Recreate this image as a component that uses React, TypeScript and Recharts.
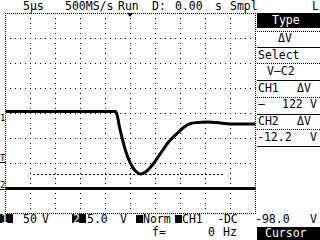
import React from 'react'
import { LineChart, Line, XAxis, YAxis, ReferenceLine } from 'recharts'

// 5 us/div, trigger at centre; CH1 50 V/div, CH2 5 V/div
const ch1Times = [-25, -3, -2, -1, 0, 1, 2, 3, 4.6, 6.4, 7.6, 9.3, 10.6, 12, 13.4, 15.4, 18, 20.6, 25]
const ch1Volts = [4, 4, -36, -74, -100, -115, -121, -117, -100, -74, -57, -40, -28, -20, -18, -17, -19, -21, -21]
const ch2Times = [-25, -12, 0, 12, 25]
const ch2Volts = [0, 0, 0, 0, 0]
const cursorTimes = [-19.4, 18.6]
const cursorVolts = -122
const gridTimes = [-20, -15, -10, -5, 0, 5, 10, 15, 20]
const gridVolts = [-150, -100, -50, 0, 50, 100, 150]
const timeDomain = [-25, 25]
const ch1Domain = [-200, 200]
const ch2Domain = [-5, 35]

const ch1Data = ch1Times.map((t, i) => ({ t, v: ch1Volts[i] }))
const ch2Data = ch2Times.map((t, i) => ({ t, v: ch2Volts[i] }))

const FONT = '"DejaVu Sans Mono", monospace'

function Txt({ x, y, children, inv = false, size = 11.5 }: { x: number; y: number; children: React.ReactNode; inv?: boolean; size?: number }) {
  return (
    <div style={{ position: 'absolute', left: x, top: y - 2, fontSize: size, lineHeight: '12px', color: inv ? '#fff' : '#000', whiteSpace: 'pre', fontFamily: FONT }}>
      {children}
    </div>
  )
}

function Box({ x, y, w, h }: { x: number; y: number; w: number; h: number }) {
  return <div style={{ position: 'absolute', left: x, top: y, width: w, height: h, background: '#000' }} />
}

function HLine({ y, dotted = false }: { y: number; dotted?: boolean }) {
  return <div style={{ position: 'absolute', left: 257, top: y, width: 63, height: 0, borderTop: dotted ? '1px dotted #000' : '1px solid #000' }} />
}

export default function App() {
  return (
    <div style={{ position: 'fixed', left: 0, top: 0, width: 320, height: 240, background: '#fff', overflow: 'hidden' }}>
      <LineChart width={320} height={240} data={ch1Data} margin={{ top: 13.5, right: 64.5, bottom: 26.5, left: 5.5 }}>
        <XAxis dataKey="t" type="number" domain={timeDomain} hide allowDataOverflow />
        <YAxis yAxisId="ch1" type="number" domain={ch1Domain} hide allowDataOverflow />
        <YAxis yAxisId="ch2" type="number" domain={ch2Domain} hide allowDataOverflow />
        {gridTimes.map((t) => (
          <ReferenceLine key={'gx' + t} x={t} yAxisId="ch1" stroke="#000" strokeDasharray="1 4" strokeDashoffset={0.5} />
        ))}
        {gridVolts.map((v) => (
          <ReferenceLine key={'gy' + v} y={v} yAxisId="ch1" stroke="#000" strokeDasharray="1 4" strokeDashoffset={0.5} />
        ))}
        <ReferenceLine
          yAxisId="ch1"
          segment={[{ x: cursorTimes[0], y: cursorVolts }, { x: cursorTimes[1], y: cursorVolts }]}
          stroke="#000"
          strokeDasharray="2 2"
          strokeDashoffset={0.5}
        />
        <Line yAxisId="ch2" data={ch2Data} dataKey="v" type="linear" stroke="#000" strokeWidth={3} dot={false} isAnimationActive={false} />
        <Line yAxisId="ch1" dataKey="v" type="monotone" stroke="#000" strokeWidth={3} dot={false} isAnimationActive={false} />
      </LineChart>

      {/* graticule frame */}
      <div style={{ position: 'absolute', left: 5, top: 13, width: 249, height: 199, border: '1px dotted #000', pointerEvents: 'none' }} />

      {/* header */}
      <Txt x={23} y={2}>5µs</Txt>
      <Txt x={65} y={2}>500MS/s</Txt>
      <Txt x={118} y={2}>Run</Txt>
      <Txt x={152} y={2}>D:</Txt>
      <Txt x={175} y={2}>0.00</Txt>
      <Txt x={215} y={2}>s</Txt>
      <Txt x={230} y={2}>Smpl</Txt>
      <Txt x={312} y={2}>L</Txt>
      <div style={{ position: 'absolute', left: 127, top: 13, width: 0, height: 0, borderLeft: '3px solid transparent', borderRight: '3px solid transparent', borderTop: '4px solid #000' }} />

      {/* left markers */}
      <Txt x={0} y={114} size={9}>1</Txt>
      <Txt x={0} y={154} size={9}><span style={{ textDecoration: 'underline' }}>T</span></Txt>
      <Txt x={0} y={181} size={9}><span style={{ textDecoration: 'underline' }}>2</span></Txt>

      {/* side menu */}
      <Box x={257} y={13} w={63} h={15} />
      <Txt x={272} y={16} inv>Type</Txt>
      <HLine y={31} dotted />
      <Txt x={278} y={34}>ΔV</Txt>
      <HLine y={47} />
      <Txt x={258} y={51}>Select</Txt>
      <HLine y={63} dotted />
      <Txt x={267} y={67}>V–C2</Txt>
      <HLine y={80} />
      <Txt x={258} y={84}>CH1</Txt>
      <Txt x={297} y={84}>ΔV</Txt>
      <HLine y={97} dotted />
      <Txt x={258} y={100}>–</Txt>
      <Txt x={282} y={100}>122</Txt>
      <Txt x={310} y={100}>V</Txt>
      <HLine y={114} />
      <Txt x={258} y={117}>CH2</Txt>
      <Txt x={297} y={117}>ΔV</Txt>
      <HLine y={129} dotted />
      <Txt x={257} y={133}>-12.2</Txt>
      <Txt x={310} y={133}>V</Txt>
      <HLine y={146} />

      {/* bottom rows */}
      <Box x={0} y={214} w={13} h={9} />
      <Txt x={1} y={215} inv>1</Txt>
      <Txt x={23} y={215}>50</Txt>
      <Txt x={42} y={215}>V</Txt>
      <Box x={72} y={214} w={14} h={9} />
      <Txt x={73} y={215} inv>2</Txt>
      <Txt x={87} y={215}>5.0</Txt>
      <Txt x={120} y={215}>V</Txt>
      <Box x={136} y={215} w={7} h={8} />
      <Txt x={143} y={215}>Norm</Txt>
      <Box x={175} y={215} w={7} h={8} />
      <Txt x={182} y={215}>CH1</Txt>
      <Txt x={217} y={215}>-DC</Txt>
      <Txt x={255} y={215}>-98.0</Txt>
      <Txt x={310} y={215}>V</Txt>
      <Txt x={152} y={228}>f=</Txt>
      <Txt x={208} y={228}>0</Txt>
      <Txt x={223} y={228}>Hz</Txt>
      <Box x={257} y={227} w={63} h={13} />
      <Txt x={265} y={229} inv>Cursor</Txt>
    </div>
  )
}
